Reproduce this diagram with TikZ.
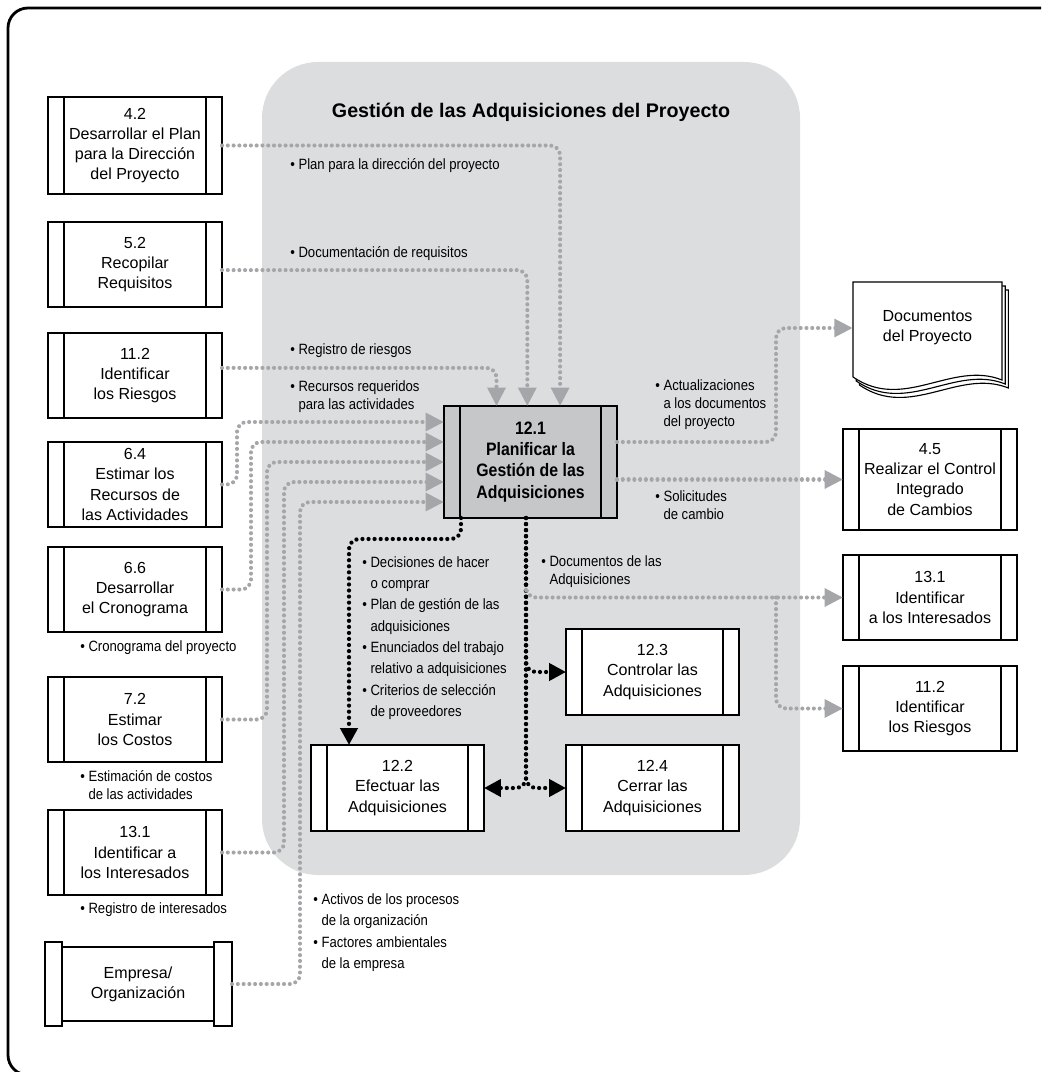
\documentclass[tikz,border=0pt]{standalone}
\usepackage{fontspec}
\setmainfont{Liberation Sans}
\newfontfamily\narrowsans{Liberation Sans}[FakeStretch=0.88]
\usepackage{tikz}
\usetikzlibrary{arrows.meta,positioning,calc}
\definecolor{AdqRegion}{HTML}{DCDDDF}
\definecolor{AdqCore}{HTML}{C6C7C9}
\definecolor{AdqFlow}{HTML}{A4A6A9}
\newcommand{\bul}{\textbullet\ }
\newcommand{\ind}{\phantom{\textbullet\ }}
\tikzset{
  process/.style={draw=black,line width=1.1pt,fill=white,align=center,
    minimum width=4.35cm,minimum height=2.125cm,inner sep=1pt,outer sep=0pt,
    font=\fontsize{11.4}{14.3}\selectfont,
    path picture={
      \draw[line width=1.1pt] ([xshift=4mm]path picture bounding box.north west)
        -- ([xshift=4mm]path picture bounding box.south west);
      \draw[line width=1.1pt] ([xshift=-4mm]path picture bounding box.north east)
        -- ([xshift=-4mm]path picture bounding box.south east);}},
  subproc/.style={process,minimum width=4.325cm,minimum height=2.15cm},
  core/.style={process,fill=AdqCore,minimum width=4.325cm,minimum height=2.8cm,
    font=\narrowsans\bfseries\fontsize{12.8}{15}\selectfont},
  scroll/.style={draw=black,line width=1.1pt,fill=white,align=center,outer sep=0pt,
    minimum width=3.8cm,minimum height=1.85cm,font=\fontsize{11.4}{14.3}\selectfont},
  docsheet/.style={align=center,minimum width=3.725cm,inner sep=0pt,
    font=\fontsize{11.4}{14.3}\selectfont},
  heading/.style={font=\bfseries\fontsize{14}{16}\selectfont},
  note/.style={align=left,inner sep=0pt,anchor=west,
    font=\narrowsans\fontsize{10.6}{12.8}\selectfont},
  notewide/.style={note,font=\narrowsans\fontsize{10.6}{15.2}\selectfont},
  flowin/.style={draw=AdqFlow,line width=2.9pt,line cap=round,
    dash pattern=on 0.01pt off 4.1pt,rounded corners=0.25cm,
    -{Triangle[length=13pt,width=12.5pt]}},
  flowout/.style={draw=black,line width=3pt,line cap=round,
    dash pattern=on 0.01pt off 4.3pt,rounded corners=0.25cm,
    -{Triangle[length=12pt,width=12pt]}}
}

\begin{document}
\begin{tikzpicture}[node distance=6mm and 20mm]
  \useasboundingbox (0,0) rectangle (26.025,-26.8);
  \clip (0,0) rectangle (26.025,-26.8);
  \fill[AdqRegion,rounded corners=1.4cm] (6.55,-1.55) rectangle (20.0,-21.875);
  \draw[line width=2pt,rounded corners=0.5cm] (0.2,-0.2) rectangle (27,-26.875);
  \node[heading] (ttl) at (13.275,-2.8) {Gestión de las Adquisiciones del Proyecto};

  \node[process,minimum height=2.425cm] (p42) at (3.375,-3.6375)
    {4.2\\Desarrollar el Plan\\para la Dirección\\del Proyecto};
  \node[process,below=0.7cm of p42] (p52) {5.2\\Recopilar\\Requisitos};
  \node[process,below=0.65cm of p52] (p112) {11.2\\Identificar\\los Riesgos};
  \node[process,below=0.6cm of p112] (p64) {6.4\\Estimar los\\Recursos de\\las Actividades};
  \node[process,below=0.5cm of p64] (p66) {6.6\\Desarrollar\\el Cronograma};
  \node[process,below=1.125cm of p66] (p72) {7.2\\Estimar\\los Costos};
  \node[process,below=1.2cm of p72] (p131) {13.1\\Identificar a\\los Interesados};
  \node[scroll,below=1.3cm of p131,xshift=0.075cm] (emp) {Empresa/\\Organización};
  \draw[line width=1.1pt,fill=white] ([xshift=-0.425cm,yshift=0.125cm]emp.north west)
    rectangle ([yshift=-0.125cm]emp.south west);
  \draw[line width=1.1pt,fill=white] ([yshift=0.125cm]emp.north east)
    rectangle ([xshift=0.45cm,yshift=-0.125cm]emp.south east);

  \node[core] (p121) at (13.2625,-11.55) {12.1\\Planificar la\\Gestión de las\\Adquisiciones};
  \node[subproc] (p123) at (16.3125,-16.8) {12.3\\Controlar las\\Adquisiciones};
  \node[subproc,below=0.75cm of p123] (p124) {12.4\\Cerrar las\\Adquisiciones};
  \node[subproc,left=2.05cm of p124] (p122) {12.2\\Efectuar las\\Adquisiciones};

  \foreach \d in {2,1,0}
    \draw[line width=0.8pt,fill=white,shift={(0.08*\d,-0.1*\d)}]
      (21.325,-7.05) -- (25.05,-7.05) -- (25.05,-9.5)
      .. controls (23.8,-9.0) and (22.6,-10.3) .. (21.325,-9.425) -- cycle;
  \node[docsheet] (docs) at (23.1875,-8.2) {Documentos\\del Proyecto};
  \node[process,minimum height=2.525cm] (p45) at (23.25,-11.9875)
    {4.5\\Realizar el Control\\Integrado\\de Cambios};
  \node[process,below=0.625cm of p45] (p131r) {13.1\\Identificar\\a los Interesados};
  \node[process,below=0.65cm of p131r] (p112r) {11.2\\Identificar\\los Riesgos};

  \node[note] (nplan) at (7.25,-4.15) {\bul Plan para la dirección del proyecto};
  \node[note] (nreq) at (7.25,-6.35) {\bul Documentación de requisitos};
  \node[note] (nrisk) at (7.25,-8.775) {\bul Registro de riesgos};
  \node[note] (nres) at (7.25,-9.9125) {\bul Recursos requeridos\\\ind para las actividades};
  \node[note] (nsched) at (2.0,-16.2) {\bul Cronograma del proyecto};
  \node[note] (ncost) at (2.0,-19.625) {\bul Estimación de costos\\\ind de las actividades};
  \node[note] (nstake) at (2.0,-22.75) {\bul Registro de interesados};
  \node[notewide] (norg) at (7.825,-23.3125)
    {\bul Activos de los procesos\\\ind de la organización\\\bul Factores ambientales\\\ind de la empresa};
  \node[notewide] (ndec) at (9.05,-15.95)
    {\bul Decisiones de hacer\\\ind o comprar\\\bul Plan de gestión de las\\\ind adquisiciones\\
     \bul Enunciados del trabajo\\\ind relativo a adquisiciones\\\bul Criterios de selección\\\ind de proveedores};
  \node[note] (ndocs) at (13.525,-14.2875) {\bul Documentos de las\\\ind Adquisiciones};
  \node[note] (nupd) at (16.375,-10.125) {\bul Actualizaciones\\\ind a los documentos\\\ind del proyecto};
  \node[note] (nchg) at (16.375,-12.6375) {\bul Solicitudes\\\ind de cambio};

  \draw[flowin] (p42.east) -| ([xshift=0.74cm]p121.north);
  \draw[flowin] ([yshift=-0.14cm]p52.east) -| ([xshift=-0.08cm]p121.north);
  \draw[flowin] ([yshift=0.19cm]p112.east) -| ([xshift=-0.85cm]p121.north);
  \draw[flowin] (p64.east) -- ++(0.375,0) |- ([yshift=1cm]p121.west);
  \draw[flowin] (p66.east) -- ++(0.725,0) |- ([yshift=0.5cm]p121.west);
  \draw[flowin] (p72.east) -- ++(1.125,0) |- (p121.west);
  \draw[flowin] (p131.east) -- ++(1.55,0) |- ([yshift=-0.5cm]p121.west);
  \draw[flowin] ([xshift=0.45cm]emp.east) -- ++(1.7,0) |- ([yshift=-1cm]p121.west);

  \draw[flowin] ([yshift=0.5cm]p121.east) -- ++(3.975,0) |- (docs.west);
  \draw[flowin] (p121.east |- p45.west) -- (p45.west);
  \coordinate (tap) at ([xshift=-0.1125cm]p121.south);
  \coordinate (fork) at (19.4,-14.9375);
  \draw[flowout] ([xshift=-1.7375cm]p121.south) -- ++(0,-0.525) -| ([xshift=-1.2125cm]p122.north);
  \draw[flowout] (tap) |- (p123.west);
  \draw[flowout] (tap) |- (p122.east);
  \draw[flowout] (tap) |- (p124.west);
  \draw[flowin] ([yshift=-1.8cm]tap) |- (p131r.west);
  \draw[flowin] (fork) |- (p112r.west);
\end{tikzpicture}
\end{document}
